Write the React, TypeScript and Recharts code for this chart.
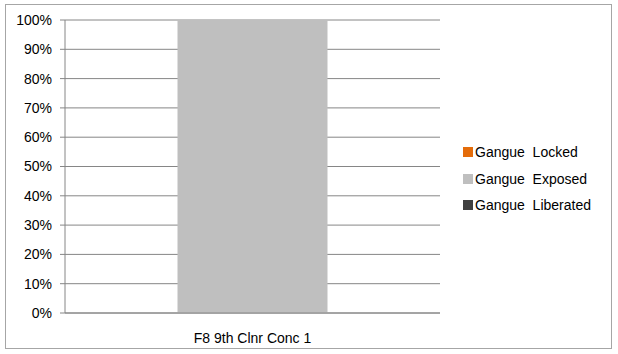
import { BarChart, Bar, XAxis, YAxis, CartesianGrid } from "recharts";

// one sample, three gangue classes (percent of total)
const SAMPLES = ["F8 9th Clnr Conc 1"];
const GANGUE_LIBERATED = [0];
const GANGUE_EXPOSED = [100];
const GANGUE_LOCKED = [0];
const PCT_TICKS = [0, 0.1, 0.2, 0.3, 0.4, 0.5, 0.6, 0.7, 0.8, 0.9, 1];

// stacked bottom to top; legend lists them top to bottom
const SERIES = [
  { key: "liberated", name: "Gangue  Liberated", color: "#404040", values: GANGUE_LIBERATED },
  { key: "exposed", name: "Gangue  Exposed", color: "#BFBFBF", values: GANGUE_EXPOSED },
  { key: "locked", name: "Gangue  Locked", color: "#E46C0A", values: GANGUE_LOCKED },
];

const data = SAMPLES.map((name, i) => {
  const row: Record<string, any> = { name };
  SERIES.forEach((s) => (row[s.key] = s.values[i]));
  return row;
});

const FONT = "'Liberation Sans', Arial, sans-serif";
const AXIS = "#868686";

function LegendBox() {
  const items = [...SERIES].reverse();
  return (
    <div
      style={{
        position: "absolute",
        left: 463,
        top: 139,
        fontFamily: FONT,
        fontSize: 14,
        color: "#000",
      }}
    >
      {items.map((s) => (
        <div
          key={s.key}
          style={{ display: "flex", alignItems: "center", height: 26.5, whiteSpace: "pre" }}
        >
          <span style={{ width: 10, height: 10, background: s.color, marginRight: 2 }} />
          {s.name}
        </div>
      ))}
    </div>
  );
}

export default function App() {
  return (
    <div style={{ position: "absolute", left: 0, top: 0, width: 618, height: 354, background: "#fff" }}>
      <div
        style={{
          position: "absolute",
          left: 5,
          top: 4,
          width: 607,
          height: 345,
          border: "1px solid #a6a6a6",
          boxSizing: "border-box",
        }}
      />
      <BarChart
        width={618}
        height={354}
        data={data}
        stackOffset="expand"
        barCategoryGap="30%"
        margin={{ top: 20, right: 178, left: 5, bottom: 11 }}
        style={{ position: "absolute", left: 0, top: 0 }}
      >
        <CartesianGrid vertical={false} stroke={AXIS} strokeWidth={1} />
        <XAxis
          dataKey="name"
          height={30}
          stroke={AXIS}
          tickLine={false}
          tickMargin={14}
          tick={{ fill: "#000", fontSize: 14, fontFamily: FONT }}
        />
        <YAxis
          width={60}
          domain={[0, 1]}
          ticks={PCT_TICKS}
          interval={0}
          stroke={AXIS}
          tickSize={5}
          tickMargin={8}
          tickFormatter={(v) => `${Math.round(v * 100)}%`}
          tick={{ fill: "#000", fontSize: 14, fontFamily: FONT }}
        />
        {SERIES.map((s) => (
          <Bar key={s.key} dataKey={s.key} name={s.name} stackId="g" fill={s.color} isAnimationActive={false} />
        ))}
      </BarChart>
      <LegendBox />
    </div>
  );
}
